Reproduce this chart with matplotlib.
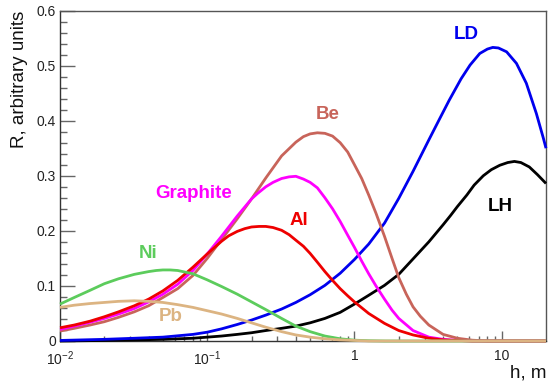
import matplotlib
matplotlib.use("Agg")
import matplotlib.pyplot as plt
from matplotlib.ticker import FixedLocator, FixedFormatter, MultipleLocator, NullFormatter

plt.rcParams['font.family'] = ['Liberation Sans', 'DejaVu Sans']
plt.rcParams['mathtext.fontset'] = 'custom'
plt.rcParams['mathtext.rm'] = 'Liberation Sans'
plt.rcParams['mathtext.it'] = 'Liberation Sans:italic'
plt.rcParams['mathtext.bf'] = 'Liberation Sans:bold'

# ---- data ----
h_LD = [0.01, 0.02, 0.032, 0.05, 0.08, 0.1, 0.125, 0.16, 0.2, 0.25, 0.32, 0.4, 0.5, 0.63,
        0.8, 1.0, 1.25, 1.6, 2.0, 2.5, 3.2, 3.8, 4.4, 5.3, 6.1, 7.1, 8.0, 8.7, 9.5, 10.8,
        12.6, 14.7, 17.2, 19.2, 20.0]
R_LD = [0.001, 0.003, 0.005, 0.007, 0.012, 0.016, 0.022, 0.030, 0.038, 0.047, 0.058,
        0.070, 0.084, 0.101, 0.123, 0.148, 0.176, 0.214, 0.259, 0.308, 0.365, 0.404,
        0.437, 0.476, 0.501, 0.522, 0.530, 0.533, 0.532, 0.525, 0.504, 0.468, 0.413,
        0.368, 0.350]

h_LH = [0.01, 0.02, 0.032, 0.05, 0.08, 0.1, 0.125, 0.16, 0.2, 0.25, 0.32, 0.4, 0.5, 0.63,
        0.8, 1.0, 1.25, 1.6, 2.0, 2.5, 3.2, 4.0, 4.5, 5.0, 5.8, 6.5, 7.5, 8.5, 9.7, 11.0,
        12.2, 13.5, 15.4, 17.5, 20.0]
R_LH = [0.000, 0.001, 0.002, 0.003, 0.005, 0.007, 0.009, 0.012, 0.015, 0.019, 0.023,
        0.027, 0.033, 0.041, 0.052, 0.067, 0.083, 0.101, 0.121, 0.149, 0.180, 0.211,
        0.228, 0.244, 0.265, 0.283, 0.300, 0.311, 0.319, 0.324, 0.326, 0.324, 0.316,
        0.302, 0.286]

h_Be = [0.01, 0.0125, 0.016, 0.02, 0.025, 0.032, 0.04, 0.05, 0.063, 0.08, 0.1, 0.125,
        0.16, 0.2, 0.25, 0.32, 0.4, 0.45, 0.5, 0.56, 0.63, 0.71, 0.8, 0.9, 1.0, 1.12,
        1.25, 1.4, 1.6, 1.8, 2.0, 2.25, 2.5, 2.8, 3.2, 4.0, 5.0, 6.3, 8.0, 20.0]
R_Be = [0.018, 0.023, 0.029, 0.035, 0.043, 0.053, 0.064, 0.079, 0.095, 0.119, 0.150,
        0.184, 0.222, 0.258, 0.296, 0.336, 0.361, 0.371, 0.376, 0.378, 0.377, 0.372,
        0.360, 0.343, 0.320, 0.295, 0.265, 0.232, 0.190, 0.150, 0.115, 0.085, 0.062,
        0.045, 0.029, 0.012, 0.005, 0.0015, 0.0, 0.0]

h_Graphite = [0.01, 0.0125, 0.016, 0.02, 0.025, 0.032, 0.04, 0.05, 0.063, 0.08, 0.1,
              0.125, 0.16, 0.2, 0.22, 0.25, 0.28, 0.32, 0.36, 0.4, 0.45, 0.5, 0.56, 0.63,
              0.71, 0.8, 0.9, 1.0, 1.12, 1.25, 1.4, 1.6, 1.8, 2.0, 2.5, 3.2, 4.0, 5.0,
              6.3, 20.0]
R_Graphite = [0.021, 0.027, 0.034, 0.041, 0.049, 0.059, 0.071, 0.085, 0.103, 0.128,
              0.158, 0.190, 0.227, 0.258, 0.268, 0.280, 0.288, 0.295, 0.298, 0.299,
              0.294, 0.288, 0.278, 0.260, 0.240, 0.217, 0.192, 0.170, 0.145, 0.122,
              0.100, 0.076, 0.056, 0.041, 0.019, 0.007, 0.003, 0.001, 0.0, 0.0]

h_Al = [0.01, 0.0125, 0.016, 0.02, 0.025, 0.032, 0.04, 0.05, 0.063, 0.08, 0.1, 0.125,
        0.14, 0.16, 0.18, 0.2, 0.225, 0.25, 0.28, 0.32, 0.36, 0.4, 0.45, 0.5, 0.56, 0.63,
        0.71, 0.8, 0.9, 1.0, 1.25, 1.6, 2.0, 2.5, 3.2, 4.0, 5.0, 6.3, 20.0]
R_Al = [0.024, 0.029, 0.036, 0.044, 0.053, 0.064, 0.076, 0.091, 0.110, 0.134, 0.158,
        0.181, 0.191, 0.199, 0.204, 0.207, 0.208, 0.208, 0.206, 0.201, 0.193, 0.183,
        0.172, 0.159, 0.143, 0.126, 0.110, 0.095, 0.082, 0.071, 0.050, 0.032, 0.019,
        0.011, 0.005, 0.002, 0.001, 0.0, 0.0]

h_Ni = [0.01, 0.0125, 0.016, 0.02, 0.025, 0.032, 0.04, 0.045, 0.05, 0.056, 0.063, 0.071,
        0.08, 0.1, 0.125, 0.16, 0.2, 0.25, 0.32, 0.4, 0.5, 0.63, 0.8, 1.0, 1.25, 1.6, 20.0]
R_Ni = [0.067, 0.079, 0.092, 0.104, 0.113, 0.121, 0.126, 0.128, 0.129, 0.129, 0.128,
        0.125, 0.122, 0.111, 0.099, 0.085, 0.071, 0.057, 0.041, 0.027, 0.017, 0.009,
        0.004, 0.0015, 0.0005, 0.0, 0.0]

h_Pb = [0.01, 0.0125, 0.016, 0.02, 0.025, 0.032, 0.04, 0.05, 0.063, 0.08, 0.1, 0.125,
        0.16, 0.2, 0.25, 0.32, 0.4, 0.5, 0.63, 0.8, 1.0, 1.25, 20.0]
R_Pb = [0.061, 0.065, 0.068, 0.070, 0.072, 0.073, 0.072, 0.070, 0.066, 0.061, 0.055,
        0.049, 0.041, 0.033, 0.025, 0.017, 0.011, 0.007, 0.004, 0.002, 0.001, 0.0, 0.0]

series = [("LH", h_LH, R_LH, "#000000"), ("LD", h_LD, R_LD, "#0000ee"),
          ("Be", h_Be, R_Be, "#c8645a"), ("Graphite", h_Graphite, R_Graphite, "#ff00ff"),
          ("Al", h_Al, R_Al, "#ee0000"), ("Ni", h_Ni, R_Ni, "#5ccc5c"),
          ("Pb", h_Pb, R_Pb, "#dcb482")]

label_pos = {"LD": (5.75, 0.557), "LH": (9.85, 0.245), "Be": (0.66, 0.411),
             "Graphite": (0.081, 0.268), "Al": (0.42, 0.218), "Ni": (0.0395, 0.158),
             "Pb": (0.0565, 0.045)}

x_major = [0.01, 0.1, 1, 10]
x_major_labels = [r'$10^{-2}$', r'$10^{-1}$', '1', '10']
y_major = [0, 0.1, 0.2, 0.3, 0.4, 0.5, 0.6]
y_major_labels = ['0', '0.1', '0.2', '0.3', '0.4', '0.5', '0.6']

# ---- figure ----
fig = plt.figure(figsize=(5.51, 3.85), dpi=100)
ax = fig.add_axes([60/551, 44/385, 486/551, 330.5/385])

for name, xs, vals, col in series:
    ax.plot(xs, vals, color=col, lw=2.0, zorder=3, clip_on=False,
            solid_joinstyle='round', solid_capstyle='butt')
    lx, ly = label_pos[name]
    ax.text(lx, ly, name, color=col, fontsize=13.5, fontweight='bold',
            ha='center', va='center')

ax.set_xscale('log')
ax.set_xlim(0.01, 20)
ax.set_ylim(0, 0.6)

ax.xaxis.set_major_locator(FixedLocator(x_major))
ax.xaxis.set_major_formatter(FixedFormatter(x_major_labels))
minors = [m * 10.0**e for e in (-2, -1, 0, 1) for m in range(2, 10) if m * 10.0**e < 20]
ax.xaxis.set_minor_locator(FixedLocator(minors))
ax.xaxis.set_minor_formatter(NullFormatter())

ax.yaxis.set_major_locator(FixedLocator(y_major))
ax.yaxis.set_major_formatter(FixedFormatter(y_major_labels))
ax.yaxis.set_minor_locator(MultipleLocator(0.02))

ax.tick_params(axis='both', which='both', direction='in', color='#666666',
               labelcolor='#222222', top=False, right=False, width=1.0)
ax.tick_params(axis='y', which='major', length=10.5, labelsize=10, pad=3)
ax.tick_params(axis='y', which='minor', length=5.2)
ax.tick_params(axis='x', which='major', length=7.2, labelsize=10, pad=6)
ax.tick_params(axis='x', which='minor', length=3.6)

for s in ax.spines.values():
    s.set_color('#555555')
    s.set_linewidth(1.0)
ax.spines['left'].set_color('#333333')
ax.spines['bottom'].set_color('#333333')

fig.text(20/551, 1 - 10.5/385, "R, arbitrary units", rotation=90, ha='center', va='top',
         fontsize=13.5, color='#111111')
fig.text(546/551, 7/385, "h, m", ha='right', va='baseline', fontsize=13.5, color='#111111')

fig.savefig("out.png", dpi=100)
